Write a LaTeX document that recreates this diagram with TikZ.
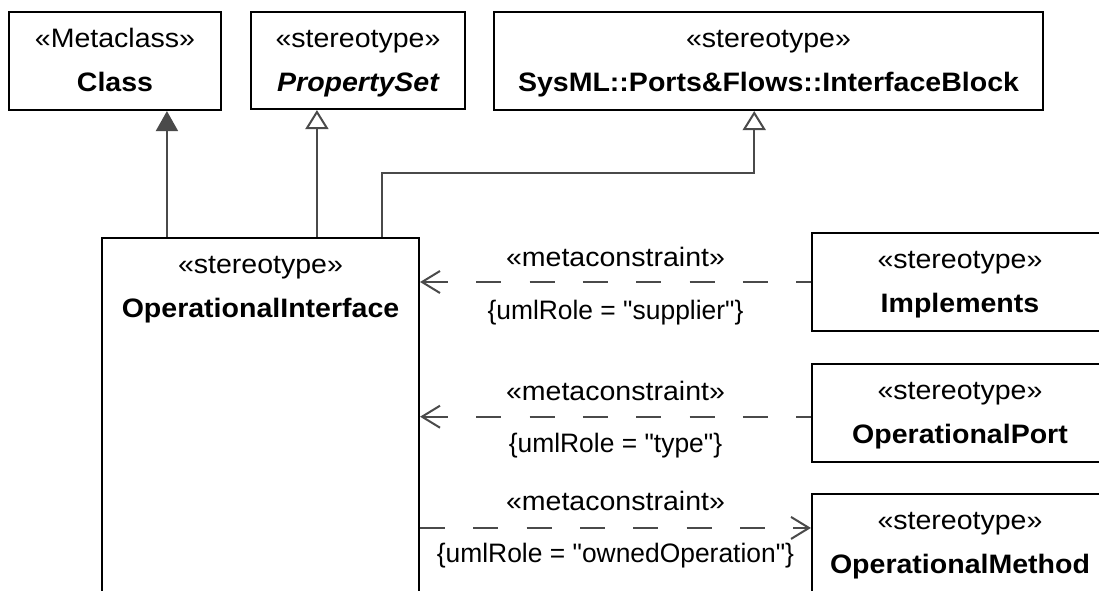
\documentclass[tikz,border=0pt]{standalone}
\usepackage{fontspec}
\setmainfont[FakeStretch=1.07]{Liberation Sans}
\newfontfamily\lblfont[FakeStretch=0.99]{Liberation Sans}
\usetikzlibrary{arrows.meta}
\definecolor{conn}{HTML}{4A4A4A}
\newcommand{\qq}{\textquotedbl}
\tikzset{
  box/.style={draw=black, line width=1.6pt, fill=white, rectangle, inner sep=0pt},
  st/.style={font=\fontsize{20pt}{24pt}\selectfont, inner sep=0pt, text height=14.3pt, text depth=0pt},
  nm/.style={st, font=\fontsize{20pt}{24pt}\selectfont\bfseries},
  lbl/.style={st},
  role/.style={st, font=\lblfont\fontsize{20pt}{24pt}\selectfont},
  conline/.style={draw=conn, line width=1.5pt},
  genf/.style={conline, -{Triangle[length=15pt,width=16.5pt,fill=conn]}},
  geno/.style={conline, -{Triangle[length=14.25pt,width=17.25pt,fill=white]}},
  dep/.style={conline, dash pattern=on 18.75pt off 21.25pt},
  barb/.tip={Straight Barb[length=13.5pt,width=16.5pt]}
}
\begin{document}
\begin{tikzpicture}[x=0.75pt,y=-0.75pt]
\clip (0,0) rectangle (1099,590);
\fill[white] (0,0) rectangle (1099,590);
% boxes
\node[box, minimum width=212*0.75pt, minimum height=98*0.75pt] (cls) at (115,61) {};
\node[box, minimum width=214*0.75pt, minimum height=97*0.75pt] (pset) at (358,60.5) {};
\node[box, minimum width=549*0.75pt, minimum height=98*0.75pt] (ib) at (768.5,61) {};
\node[box, minimum width=317*0.75pt, minimum height=400*0.75pt] (opl) at (260.5,438) {};
\node[box, minimum width=296*0.75pt, minimum height=98*0.75pt] (impl) at (960,282) {};
\node[box, minimum width=296*0.75pt, minimum height=98*0.75pt] (port) at (960,413) {};
\node[box, minimum width=296*0.75pt, minimum height=150*0.75pt] (meth) at (960,569) {};
% texts
\node[st] (cls-s) at (115,38) {«Metaclass»};
\node[nm] (cls-n) at (115,82) {Class};
\node[st] (pset-s) at (358,38) {«stereotype»};
\node[nm, font=\fontsize{20pt}{24pt}\selectfont\bfseries\itshape] (pset-n) at (358,82) {PropertySet};
\node[st] (ib-s) at (768.5,38) {«stereotype»};
\node[nm] (ib-n) at (768.5,82) {SysML::Ports\&Flows::InterfaceBlock};
\node[st] (opl-s) at (260.5,264) {«stereotype»};
\node[nm] (opl-n) at (260.5,308) {OperationalInterface};
\node[st] (impl-s) at (960,259) {«stereotype»};
\node[nm] (impl-n) at (960,303) {Implements};
\node[st] (port-s) at (960,390) {«stereotype»};
\node[nm] (port-n) at (960,434) {OperationalPort};
\node[st] (meth-s) at (960,520) {«stereotype»};
\node[nm] (meth-n) at (960,564) {OperationalMethod};
% generalization connectors
\path (opl.north west) ++(66,0) coordinate (g1) ++(150,0) coordinate (g2) ++(64.7,0) coordinate (g3);
\path (ib.south west) ++(261.3,0) coordinate (g4);
\draw[genf] (g1) -- (g1 |- cls.south);
\draw[geno] (g2) -- (g2 |- pset.south);
\draw[geno] (g3) -- ++(0,-64) -| (g4);
% metaconstraint connectors
\coordinate (p2) at ([yshift=-3.7*0.75pt]port.west);
\coordinate (p3) at ([yshift=-35*0.75pt]meth.north west);
\draw[dep, barb-] (opl.east |- impl.west) -- (impl.west)
  node[lbl, midway, yshift=19.1pt] (m1a) {«metaconstraint»}
  node[role, midway, yshift=-20.6pt] (m1b) {\{umlRole = \qq supplier\qq\}};
\draw[dep, barb-] (opl.east |- p2) -- (p2)
  node[lbl, midway, yshift=19.6pt] (m2a) {«metaconstraint»}
  node[role, midway, yshift=-19.9pt] (m2b) {\{umlRole = \qq type\qq\}};
\draw[dep, -barb] (opl.east |- p3) -- (p3)
  node[lbl, midway, yshift=20.5pt] (m3a) {«metaconstraint»}
  node[role, midway, yshift=-18.8pt] (m3b) {\{umlRole = \qq ownedOperation\qq\}};
\end{tikzpicture}
\end{document}
